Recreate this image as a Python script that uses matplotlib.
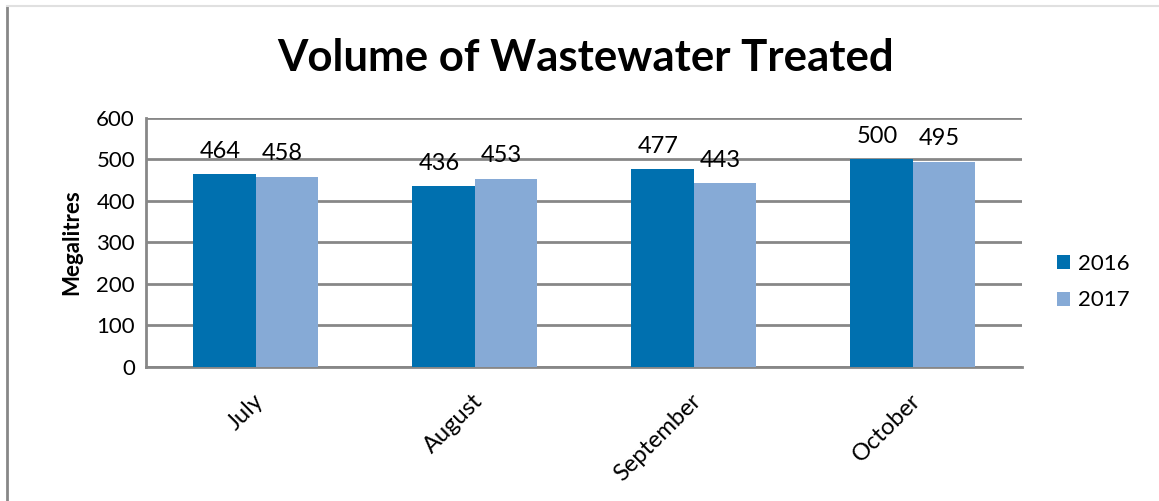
import matplotlib
matplotlib.use('Agg')
import matplotlib.pyplot as plt
import matplotlib.lines as mlines
import matplotlib.transforms as mtrans
import numpy as np

plt.rcParams['font.family'] = ['Lato', 'DejaVu Sans']

months = ['July', 'August', 'September', 'October']
years = ['2016', '2017']
vol_2016 = [464, 436, 477, 500]
vol_2017 = [458, 453, 443, 495]
yticks = [0, 100, 200, 300, 400, 500, 600]

col_2016 = '#0070AF'
col_2017 = '#86AAD6'
grid_col = '#878787'

fig = plt.figure(figsize=(11.59, 5.01), dpi=100)
ax = fig.add_axes([0.126, 0.2675, 0.756, 0.497])

x = np.arange(len(months))
w = 0.285
b1 = ax.bar(x - w/2, vol_2016, w, color=col_2016, label=years[0], zorder=3)
b2 = ax.bar(x + w/2, vol_2017, w, color=col_2017, label=years[1], zorder=3)

for bars in (b1, b2):
    for rect in bars:
        h = rect.get_height()
        ax.annotate(str(int(h)), (rect.get_x() + rect.get_width()/2, h),
                    xytext=(-3, 9), textcoords='offset points',
                    ha='center', va='bottom', fontsize=17, zorder=5)

ax.set_xlim(-0.5, 3.5)
ax.set_ylim(0, 600)
ax.set_yticks(yticks)
ax.set_yticklabels([str(t) for t in yticks], fontsize=16)
ax.yaxis.grid(True, color=grid_col, linewidth=2, zorder=0)
ax.tick_params(axis='both', length=0, pad=8)

ax.set_xticks(x)
ax.set_xticklabels(months, fontsize=17, rotation=45, ha='right', rotation_mode='anchor')
offset = mtrans.ScaledTranslation(-0.03, -0.12, fig.dpi_scale_trans)
for lbl in ax.get_xticklabels():
    lbl.set_transform(lbl.get_transform() + offset)

for s in ['top', 'right']:
    ax.spines[s].set_visible(False)
ax.spines['left'].set_color(grid_col)
ax.spines['left'].set_linewidth(2)
ax.spines['bottom'].set_color(grid_col)
ax.spines['bottom'].set_linewidth(2)

ax.set_ylabel('Megalitres', fontsize=16, fontweight='bold', labelpad=10)

fig.text(0.505, 0.885, 'Volume of Wastewater Treated', ha='center', va='center',
         fontsize=31.5, fontweight='bold')

leg = fig.legend(handles=[b1, b2], labels=years, loc='center left',
                 bbox_to_anchor=(0.902, 0.437), frameon=False, fontsize=16,
                 handlelength=0.6, handleheight=0.6, handletextpad=0.35,
                 labelspacing=0.75, borderpad=0)

# chart frame edges
fig.add_artist(mlines.Line2D([7/1159, 7/1159], [0, 1 - 6/501], color=grid_col,
                             linewidth=2, transform=fig.transFigure))
fig.add_artist(mlines.Line2D([7/1159, 1], [1 - 6/501, 1 - 6/501], color='#e0e0e0',
                             linewidth=1.5, transform=fig.transFigure))

fig.savefig('out.png', dpi=100)
